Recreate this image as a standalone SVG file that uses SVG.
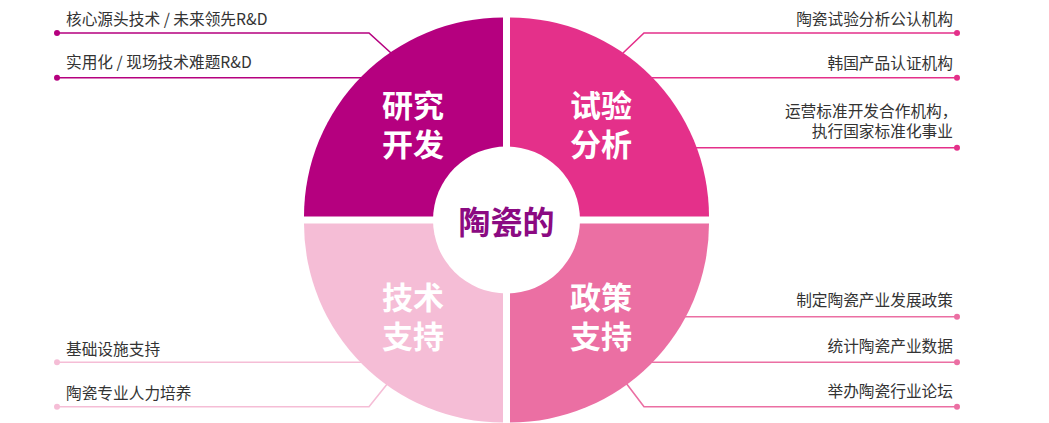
<svg xmlns="http://www.w3.org/2000/svg" width="1049" height="423" viewBox="0 0 1049 423">
<style>
.lbl{font-family:"Noto Sans CJK SC","Noto Sans",sans-serif;font-size:15.7px;fill:#333333;dominant-baseline:central}
.q{font-family:"Noto Sans CJK SC","Noto Sans",sans-serif;font-size:31px;font-weight:700;fill:#ffffff;text-anchor:middle;dominant-baseline:central}
.ln{fill:none;stroke-width:1.6}
.c1{stroke:#B5007F}.f1{fill:#B5007F}
.c2{stroke:#E4308A}.f2{fill:#E4308A}
.c3{stroke:#EB6FA3}.f3{fill:#EB6FA3}
.c4{stroke:#F5BDD6}.f4{fill:#F5BDD6}
.end{text-anchor:end}
</style>
<rect width="1049" height="423" fill="#ffffff"/>
<g id="connectors">
  <polyline class="ln c1" points="57,33 369,33 391,53"/>
  <line class="ln c1" x1="57" y1="77.7" x2="362" y2="77.7"/>
  <circle class="f1" cx="57" cy="33" r="3"/>
  <circle class="f1" cx="57" cy="77.7" r="3"/>
  <polyline class="ln c2" points="957,33 644,33 623,53"/>
  <line class="ln c2" x1="651" y1="77.7" x2="957" y2="77.7"/>
  <line class="ln c2" x1="695" y1="147.7" x2="957" y2="147.7"/>
  <circle class="f2" cx="957" cy="33" r="3"/>
  <circle class="f2" cx="957" cy="77.7" r="3"/>
  <circle class="f2" cx="957" cy="147.7" r="3"/>
  <line class="ln c3" x1="684" y1="316.7" x2="957" y2="316.7"/>
  <line class="ln c3" x1="651" y1="362.3" x2="957" y2="362.3"/>
  <polyline class="ln c3" points="957,406.7 644,406.7 626,383"/>
  <circle class="f3" cx="957" cy="316.7" r="3"/>
  <circle class="f3" cx="957" cy="362.3" r="3"/>
  <circle class="f3" cx="957" cy="406.7" r="3"/>
  <line class="ln c4" x1="57" y1="362.3" x2="362" y2="362.3"/>
  <polyline class="ln c4" points="57,406.7 369,406.7 388,383"/>
  <circle class="f4" cx="57" cy="362.3" r="3"/>
  <circle class="f4" cx="57" cy="406.7" r="3"/>
</g>
<g id="q-rd">
  <path class="f1" d="M503,216.5 L304,216.5 A199,199 0 0 1 503,17.5 Z"/>
  <text class="q"><tspan x="413" y="103">研究</tspan><tspan x="413" y="141.5">开发</tspan></text>
</g>
<g id="q-test">
  <path class="f2" d="M510,216.5 L510,17.5 A199,199 0 0 1 709,216.5 Z"/>
  <text class="q"><tspan x="601" y="103">试验</tspan><tspan x="601" y="141.5">分析</tspan></text>
</g>
<g id="q-policy">
  <path class="f3" d="M510,223.5 L709,223.5 A199,199 0 0 1 510,422.5 Z"/>
  <text class="q"><tspan x="601" y="295">政策</tspan><tspan x="601" y="333.5">支持</tspan></text>
</g>
<g id="q-tech">
  <path class="f4" d="M503,223.5 L503,422.5 A199,199 0 0 1 304,223.5 Z"/>
  <text class="q"><tspan x="413" y="295">技术</tspan><tspan x="413" y="333.5">支持</tspan></text>
</g>
<g id="center">
  <circle cx="506.5" cy="220" r="73.5" fill="#ffffff"/>
  <text x="506.5" y="220" font-family="'Noto Sans CJK SC','Noto Sans',sans-serif" font-size="32" font-weight="700" fill="#8B0A82" text-anchor="middle" dominant-baseline="central">陶瓷的</text>
</g>
<g id="labels-rd">
  <text class="lbl" x="66" y="18.5">核心源头技术 / 未来领先R&amp;D</text>
  <text class="lbl" x="66" y="61.5">实用化 / 现场技术难题R&amp;D</text>
</g>
<g id="labels-test">
  <text class="lbl end" x="953" y="18.3">陶瓷试验分析公认机构</text>
  <text class="lbl end" x="953" y="62">韩国产品认证机构</text>
  <text class="lbl end"><tspan x="957.5" y="110">运营标准开发合作机构，</tspan><tspan x="953" y="130">执行国家标准化事业</tspan></text>
</g>
<g id="labels-policy">
  <text class="lbl end" x="953" y="299.7">制定陶瓷产业发展政策</text>
  <text class="lbl end" x="953" y="345">统计陶瓷产业数据</text>
  <text class="lbl end" x="953" y="390">举办陶瓷行业论坛</text>
</g>
<g id="labels-tech">
  <text class="lbl" x="66" y="348.3">基础设施支持</text>
  <text class="lbl" x="66" y="392">陶瓷专业人力培养</text>
</g>
</svg>
